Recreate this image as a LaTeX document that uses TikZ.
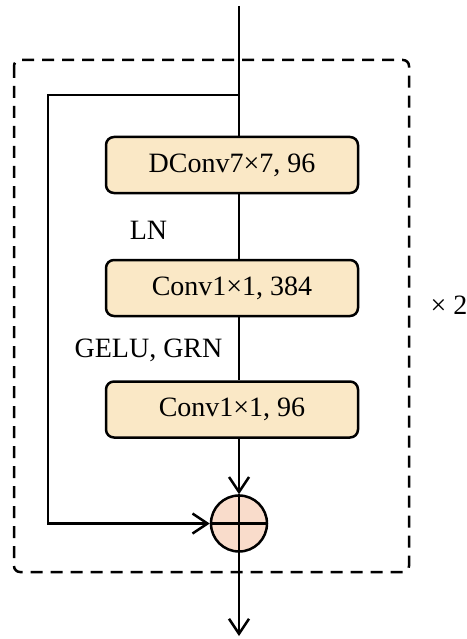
\documentclass[tikz,border=0pt]{standalone}
\usepackage{fontspec}
\setmainfont{Liberation Serif}
\usetikzlibrary{arrows.meta}
\definecolor{boxfill}{HTML}{FAE8C6}
\definecolor{sumfill}{HTML}{F9DCCB}
\begin{document}
\begin{tikzpicture}[x=1pt,y=-1pt,
  line width=2.5pt,
  blk/.style={draw, fill=boxfill, rounded corners=8pt, minimum width=252pt, minimum height=56pt, font=\fontsize{28}{32}\selectfont, inner sep=0pt},
  lbl/.style={font=\fontsize{28}{32}\selectfont, inner sep=0pt},
  arr/.style={-{Straight Barb[length=15pt,width=20pt,line width=2.5pt]}}
]
\useasboundingbox (0,0) rectangle (466,639);
\draw[dashed, dash pattern=on 12pt off 8pt, rounded corners=6pt] (14,60) rectangle (409,572);
\node[blk] (b1) at (232,165) {DConv7\texttimes7, 96};
\node[blk] (b2) at (232,288) {Conv1\texttimes1, 384};
\node[blk] (b3) at (232,409.5) {Conv1\texttimes1, 96};
\node[draw, circle, fill=sumfill, minimum size=56pt, inner sep=0pt] (s) at (239,523.5) {};
\draw (s.north) -- (s.south) (s.west) -- (s.east);
\coordinate (top) at (239,6);
\coordinate (split) at (239,95);
\coordinate (bot) at (239,636);
\coordinate (c1) at (48,95);
\coordinate (c2) at (48,523.5);
\draw (top) -- (top |- b1.north);
\draw (top |- b1.south) -- (top |- b2.north);
\draw (top |- b2.south) -- (top |- b3.north);
\draw[arr] (top |- b3.south) -- (s.north);
\draw[arr] (s.south) -- (bot);
\draw[arr] (split) -- (c1) -- (c2) -- (s.west);
\node[lbl] (ln) at (148.5,230) {LN};
\node[lbl] (ge) at (148.5,350) {GELU, GRN};
\node[lbl] (x2) at (449,305) {\texttimes\ 2};
\end{tikzpicture}
\end{document}
